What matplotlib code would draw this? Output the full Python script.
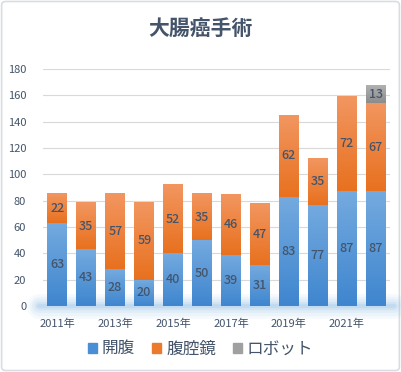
import numpy as np
import matplotlib
matplotlib.use("Agg")
import matplotlib.pyplot as plt
from matplotlib.colors import LinearSegmentedColormap
from matplotlib.patches import FancyBboxPatch, Patch

plt.rcParams['font.family'] = ['Noto Sans CJK JP', 'DejaVu Sans']

years = ['2011年', '2012年', '2013年', '2014年', '2015年', '2016年',
         '2017年', '2018年', '2019年', '2020年', '2021年', '2022年']
kaifuku = [63, 43, 28, 20, 40, 50, 39, 31, 83, 77, 87, 87]
fukukukyo = [22, 35, 57, 59, 52, 35, 46, 47, 62, 35, 72, 67]
robot = [0, 0, 0, 0, 0, 0, 0, 0, 0, 0, 0, 13]
series_names = ['開腹', '腹腔鏡', 'ロボット']

# (top colour, bottom colour) for the gradient fill
grads = [('#74aadf', '#3f86cf'), ('#f29660', '#e8711f'), ('#b0b0b0', '#8c8c8c')]
legend_cols = ['#4a8fd6', '#ec7a2c', '#a0a0a0']
txt = '#44546a'

fig = plt.figure(figsize=(4.01, 3.72), dpi=100)
fig.patches.append(FancyBboxPatch((0.004, 0.004), 0.992, 0.992, boxstyle='round,pad=0,rounding_size=0.01',
                                  transform=fig.transFigure, fc='white', ec='#d9dde3', lw=1.2, zorder=-10))
ax = fig.add_axes([0.107, 0.177, 0.866, 0.638])
ax.set_facecolor('none')

x = np.arange(len(years))
w = 0.69
grad = np.linspace(0, 1, 64).reshape(-1, 1)
bottoms = np.zeros(len(years))
for vals, (c_top, c_bot) in zip([kaifuku, fukukukyo, robot], grads):
    cmap = LinearSegmentedColormap.from_list('g', [c_bot, c_top])
    for xi, v, b in zip(x, vals, bottoms):
        if v <= 0:
            continue
        ax.imshow(grad, cmap=cmap, extent=(xi - w / 2, xi + w / 2, b, b + v),
                  origin='lower', aspect='auto', zorder=2, interpolation='bilinear')
        ax.text(xi, b + v / 2, str(v), ha='center', va='center', fontsize=9,
                fontweight='medium', color=txt, zorder=4)
    bottoms = bottoms + np.array(vals)

# soft glow along the baseline
for lw, a in [(18, 0.07), (14, 0.09), (10, 0.12), (6, 0.16), (3, 0.22)]:
    ax.plot([-0.62, 11.62], [0, 0], color='#8dbbe6', lw=lw, alpha=a, zorder=1,
            solid_capstyle='round', clip_on=False)

ax.set_xlim(-0.5, 11.5)
ax.set_ylim(0, 180)
ax.set_yticks(range(0, 181, 20))
ax.grid(axis='y', color='#d9d9d9', lw=0.8, zorder=0)
ax.set_axisbelow(True)
ax.set_xticks(x[::2])
ax.set_xticklabels(years[::2])
ax.tick_params(axis='both', length=0, labelsize=8, colors=txt)
ax.tick_params(axis='x', pad=9)
ax.tick_params(axis='y', pad=12)
for s in ax.spines.values():
    s.set_visible(False)

fig.text(0.5, 0.925, '大腸癌手術', ha='center', va='center', fontsize=15,
         fontweight='bold', color=txt)

handles = [Patch(color=c) for c in legend_cols]
fig.legend(handles, series_names, loc='center', bbox_to_anchor=(0.5, 0.062), ncol=3,
           frameon=False, fontsize=12, handlelength=0.55, handleheight=0.55,
           handletextpad=0.3, columnspacing=1.0, labelcolor=txt)

fig.savefig('out.png', dpi=100)
